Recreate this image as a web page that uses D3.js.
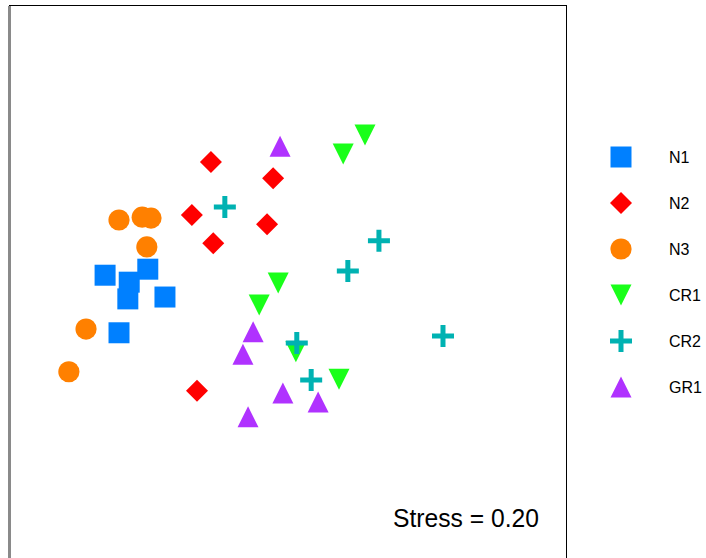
<!DOCTYPE html>
<html>
<head>
<meta charset="utf-8">
<script src="https://cdn.jsdelivr.net/npm/d3@7"></script>
<style>
  html, body { margin: 0; padding: 0; background: #fff; }
  svg { display: block; font-family: "Liberation Sans", Arial, sans-serif; }
</style>
</head>
<body>
<script>
// NMDS ordination scores per group (NMDS1, NMDS2)
const groups = ["N1", "N2", "N3", "CR1", "CR2", "GR1"];
const groupColors = ["#0080FF", "#FF0000", "#FF8000", "#1AFF1A", "#00B2B2", "#B032FF"];
const groupShapes = ["square", "diamond", "circle", "triangleDown", "plus", "triangleUp"];

const n1 = [[-0.393, 0.020], [-0.341, 0.005], [-0.301, 0.033], [-0.344, -0.031], [-0.264, -0.027], [-0.363, -0.104]];
const n2 = [[-0.165, 0.264], [-0.031, 0.229], [-0.206, 0.150], [-0.044, 0.130], [-0.160, 0.089], [-0.195, -0.229]];
const n3 = [[-0.363, 0.139], [-0.313, 0.145], [-0.294, 0.143], [-0.303, 0.081], [-0.434, -0.096], [-0.471, -0.188]];
const cr1 = [[0.167, 0.322], [0.120, 0.281], [-0.020, 0.003], [-0.061, -0.044], [0.018, -0.145], [0.111, -0.204]];
const cr2 = [[-0.135, 0.167], [0.197, 0.094], [0.130, 0.029], [0.020, -0.126], [0.051, -0.206], [0.335, -0.111]];
const gr1 = [[-0.016, 0.298], [-0.074, -0.102], [-0.096, -0.150], [-0.010, -0.234], [0.066, -0.253], [-0.085, -0.285]];

const seriesValues = [n1, n2, n3, cr1, cr2, gr1];
const stressValue = 0.20;

const W = 706, H = 558;
const frame = { left: 9, top: 6, right: 566, bottom: 563 };

const svg = d3.select("body").append("svg").attr("width", W).attr("height", H);

const x = d3.scaleLinear().domain([-0.6, 0.6]).range([frame.left, frame.right]);
const y = d3.scaleLinear().domain([-0.6, 0.6]).range([frame.bottom, frame.top]);

// marker path generators, centred on (0,0)
function shapePath(shape) {
  const s = 21;      // nominal marker size
  const h = s / 2;
  switch (shape) {
    case "square": return `M${-h},${-h}H${h}V${h}H${-h}Z`;
    case "diamond": return `M0,${-h - 0.5}L${h + 0.5},0L0,${h + 0.5}L${-h - 0.5},0Z`;
    case "circle": return d3.arc()({ innerRadius: 0, outerRadius: 10.6, startAngle: 0, endAngle: 2 * Math.PI });
    case "triangleUp": return `M0,${-h}L${h},${h}L${-h},${h}Z`;
    case "triangleDown": return `M0,${h}L${h},${-h}L${-h},${-h}Z`;
    case "plus": {
      const a = 11, t = 2.5;
      return `M${-t},${-a}H${t}V${-t}H${a}V${t}H${t}V${a}H${-t}V${t}H${-a}V${-t}H${-t}Z`;
    }
  }
}

// plot frame (left, top and right edges)
svg.append("rect").attr("x", 8).attr("y", 6).attr("width", 3).attr("height", H)
  .attr("fill", "#8a8a8a");
svg.append("line").attr("x1", 9).attr("x2", 567).attr("y1", 5.5).attr("y2", 5.5)
  .attr("stroke", "#000").attr("stroke-width", 1);
svg.append("line").attr("x1", 566.5).attr("x2", 566.5).attr("y1", 5).attr("y2", H)
  .attr("stroke", "#000").attr("stroke-width", 1);

// points
const plot = svg.append("g");
groups.forEach((g, i) => {
  plot.append("g").attr("class", "grp-" + g)
    .selectAll("path")
    .data(seriesValues[i])
    .join("path")
    .attr("transform", d => `translate(${x(d[0])},${y(d[1])})`)
    .attr("d", shapePath(groupShapes[i]))
    .attr("fill", groupColors[i]);
});

// stress annotation
svg.append("text")
  .attr("x", 539).attr("y", 527)
  .attr("text-anchor", "end")
  .attr("font-size", 26)
  .attr("textLength", 146)
  .attr("lengthAdjust", "spacingAndGlyphs")
  .attr("fill", "#000")
  .text(`Stress = ${stressValue.toFixed(2)}`);

// legend
const legendY = d3.scalePoint().domain(groups).range([157, 387]);
const legend = svg.append("g");
groups.forEach((g, i) => {
  legend.append("path")
    .attr("transform", `translate(621,${legendY(g)})`)
    .attr("d", shapePath(groupShapes[i]))
    .attr("fill", groupColors[i]);
  legend.append("text")
    .attr("x", 669).attr("y", legendY(g))
    .attr("dy", "0.36em")
    .attr("font-size", 16)
    .attr("fill", "#000")
    .text(g);
});
</script>
</body>
</html>
